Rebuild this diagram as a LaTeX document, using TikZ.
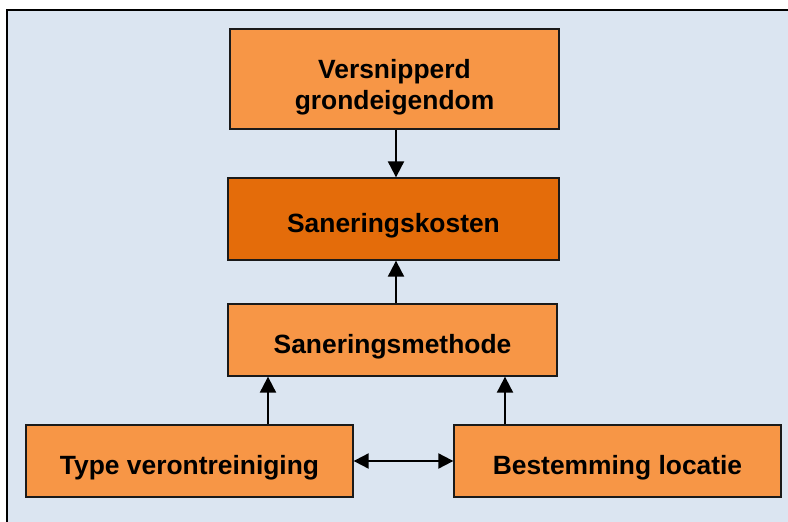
\documentclass[tikz,border=0pt]{standalone}
\usepackage{fontspec}
\setmainfont{Liberation Sans}
\usetikzlibrary{arrows.meta}
\definecolor{panelblue}{HTML}{DBE5F1}
\definecolor{lightorange}{HTML}{F79646}
\definecolor{darkorange}{HTML}{E46C0A}
\definecolor{edgegray}{HTML}{1A1A1A}
\begin{document}
\begin{tikzpicture}[x=1pt,y=-1pt,
  boxfont/.style={font=\fontsize{26.4}{31}\selectfont\bfseries},
  factor/.style={draw=edgegray, line width=1.3pt, fill=lightorange, inner sep=0pt,
    boxfont, text height=33pt, text depth=7pt},
  link/.style={line width=2pt, -{Triangle[length=16pt,width=16pt]}},
  twoway/.style={line width=2pt, {Triangle[length=15pt,width=15pt]}-{Triangle[length=15pt,width=15pt]}}]
  \useasboundingbox (0,0) rectangle (788,522);
  \clip (0,0) rectangle (788,522);
  % panel
  \draw[line width=2pt, fill=panelblue] (7,10) rectangle (810,540);
  % factors
  \node[draw=edgegray, line width=1.3pt, fill=lightorange, minimum width=329pt, minimum height=100pt] (grond) at (394.5,79) {};
  \node[boxfont, align=center, inner sep=0pt] (grondtext) at (394.5,87) {Versnipperd\\grondeigendom};
  \node[factor, fill=darkorange, minimum width=331pt, minimum height=82pt] (kosten) at (393.5,219) {Saneringskosten};
  \node[factor, minimum width=329pt, minimum height=72pt] (methode) at (392.5,340) {Saneringsmethode};
  \node[factor, minimum width=327pt, minimum height=72pt] (type) at (189.5,461) {Type verontreiniging};
  \node[factor, minimum width=327pt, minimum height=72pt] (locatie) at (617.5,461) {Bestemming locatie};
  % influences
  \draw[link] (grond.south -| 396,0) -- (kosten.north -| 396,0);
  \draw[link] (methode.north -| 396,0) -- (kosten.south -| 396,0);
  \draw[link] (type.north -| 268,0) -- (methode.south -| 268,0);
  \draw[link] (locatie.north -| 505,0) -- (methode.south -| 505,0);
  \draw[twoway] (type.east) -- (locatie.west);
\end{tikzpicture}
\end{document}
